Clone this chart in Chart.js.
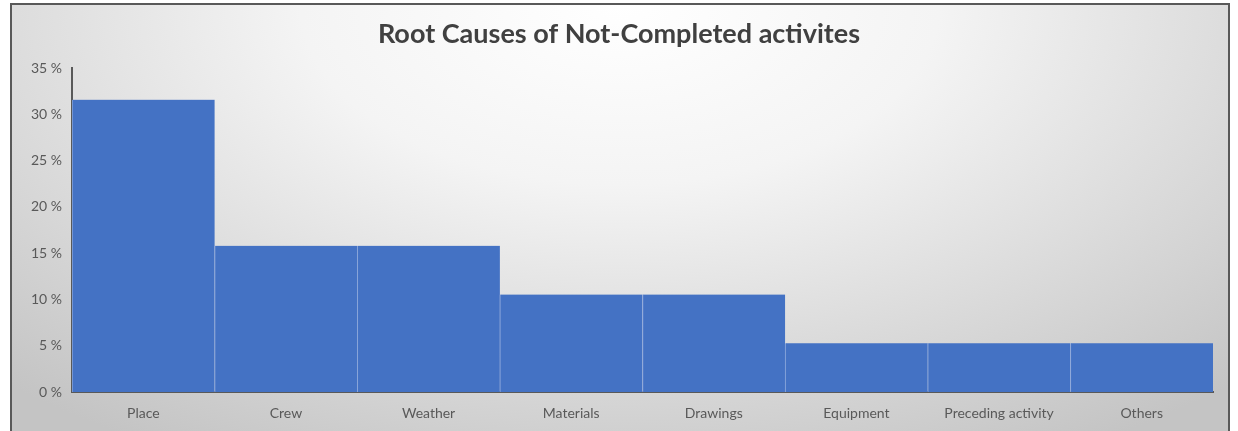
<!DOCTYPE html>
<html>
<head>
<meta charset="utf-8">
<title>Root Causes of Not-Completed activites</title>
<script src="https://cdn.jsdelivr.net/npm/chart.js@4/dist/chart.umd.min.js"></script>
<style>
    html, body { margin: 0; padding: 0; background: #fff; overflow: hidden; }
    /* 图表外框 + 径向渐变背景 */
    .frame {
        position: absolute; left: 10px; top: 3px; width: 1220px; height: 470px;
        box-sizing: border-box; border: 2px solid #595959;
        background: radial-gradient(ellipse 75% 110% at 50% 0%, #ffffff 0%, #f4f4f4 35%, #dadada 70%, #c4c4c4 100%);
    }
    #wrap { position: absolute; left: 0; top: 0; width: 1238px; height: 431px; }
</style>
</head>
<body>
<div class="frame"></div>
<div id="wrap"><canvas id="causeChart" width="1238" height="431"></canvas></div>
<script>
// 未完成活动的根本原因（百分比）
const causeLabels = ['Place', 'Crew', 'Weather', 'Materials', 'Drawings', 'Equipment', 'Preceding activity', 'Others'];
const causeShare = [31.58, 15.79, 15.79, 10.53, 10.53, 5.26, 5.26, 5.26];
const yTicks = [0, 5, 10, 15, 20, 25, 30, 35];

const textColor = '#595959';
const fontFamily = 'Lato, "Open Sans", sans-serif';

new Chart(document.getElementById('causeChart'), {
    type: 'bar',
    data: {
        labels: causeLabels,
        datasets: [{
            data: causeShare,
            backgroundColor: '#4472C4',
            borderColor: '#8fa9dc',
            borderWidth: { left: 1, top: 0, right: 0, bottom: 0 },
            borderSkipped: false,
            categoryPercentage: 1,
            barPercentage: 1
        }]
    },
    options: {
        responsive: false,
        animation: false,
        // 左右留白相等，标题居中于外框
        layout: { padding: { left: 25, right: 25, top: 0, bottom: 0 } },
        plugins: {
            legend: { display: false },
            tooltip: { enabled: false },
            title: {
                display: true,
                text: 'Root Causes of Not-Completed activites',
                color: '#404040',
                font: { family: fontFamily, size: 27, weight: 'bold' },
                padding: { top: 18, bottom: 17.6 }
            }
        },
        scales: {
            x: {
                grid: { display: false, drawTicks: false },
                border: { display: true, color: '#595959', width: 2 },
                ticks: { color: textColor, font: { family: fontFamily, size: 14 }, padding: 13, maxRotation: 0 },
                afterFit: s => { s.height = 39; }
            },
            y: {
                min: 0,
                max: 35,
                afterBuildTicks: s => { s.ticks = yTicks.map(v => ({ value: v })); },
                grid: { display: false, drawTicks: false },
                border: { display: true, color: '#595959', width: 2 },
                ticks: { color: textColor, font: { family: fontFamily, size: 14 }, padding: 10, callback: v => v + ' %' },
                afterFit: s => { s.width = 47; }
            }
        }
    }
});
</script>
</body>
</html>
